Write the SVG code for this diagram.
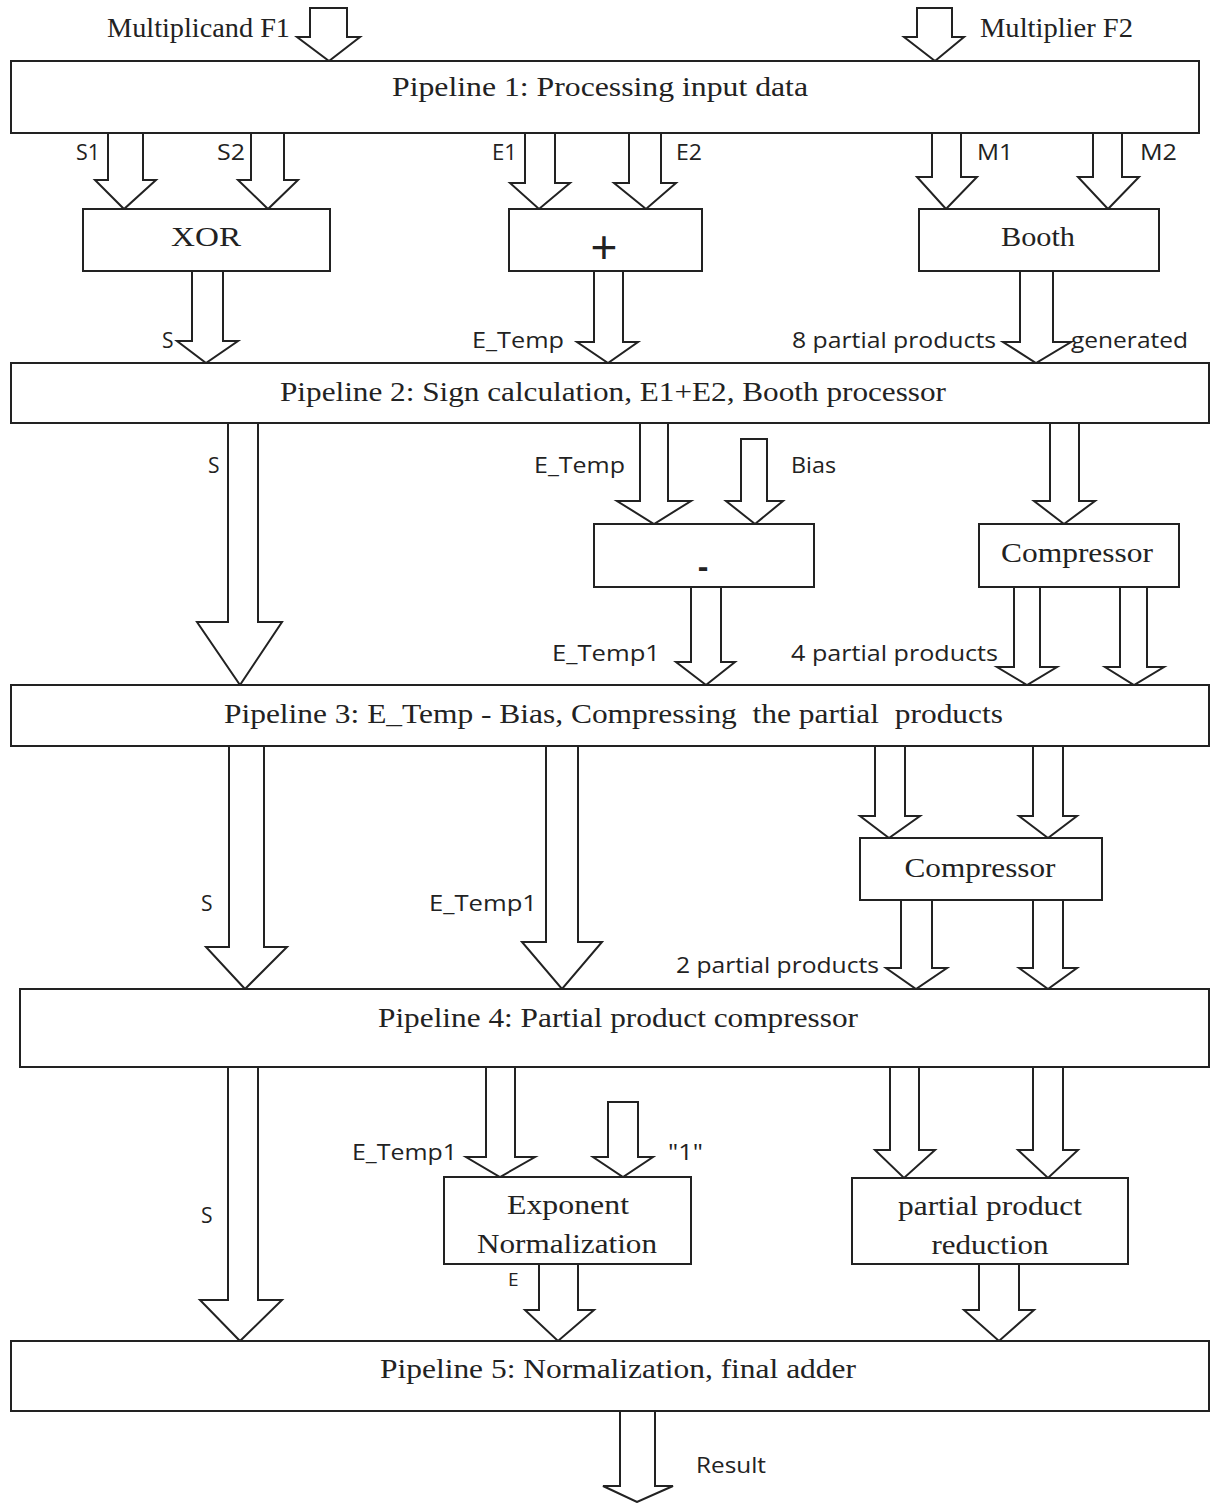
<svg xmlns="http://www.w3.org/2000/svg" width="1211" height="1503" viewBox="0 0 1211 1503">
<style>
.box{fill:#fff;stroke:#222;stroke-width:2}
.arr{fill:#fff;stroke:#222;stroke-width:2;stroke-linejoin:miter}
.ser{font-family:"Liberation Serif","Times New Roman",serif;font-size:27px;fill:#222}
.san{font-family:"Open Sans","Liberation Sans",sans-serif;font-size:21px;fill:#222}
.mid{text-anchor:middle}
</style>
<rect width="1211" height="1503" fill="#fff"/>
<g id="connectors">
<polygon class="arr" points="310,8 347,8 347,37 360,37 329,61 297,37 310,37"/>
<polygon class="arr" points="917,8 952,8 952,37 964,37 935,61 904,37 917,37"/>
<polygon class="arr" points="108,133 143,133 143,180 156,180 124,209 95,180 108,180"/>
<polygon class="arr" points="251,133 284,133 284,180 298,180 268,209 238,180 251,180"/>
<polygon class="arr" points="525,133 555,133 555,183 570,183 539,209 510,183 525,183"/>
<polygon class="arr" points="629,133 661,133 661,183 676,183 646,209 614,183 629,183"/>
<polygon class="arr" points="932,133 961,133 961,177 977,177 946,209 917,177 932,177"/>
<polygon class="arr" points="1093,133 1122,133 1122,177 1139,177 1108,209 1078,177 1093,177"/>
<polygon class="arr" points="192,271 223,271 223,341 238,341 206,363 177,341 192,341"/>
<polygon class="arr" points="594,271 623,271 623,342 638,342 608,363 577,342 594,342"/>
<polygon class="arr" points="1020,271 1053,271 1053,342 1071,342 1036,363 1003,342 1020,342"/>
<polygon class="arr" points="228,423 258,423 258,622 282,622 240,685 197,622 228,622"/>
<polygon class="arr" points="640,423 668,423 668,501 691,501 654,524 617,501 640,501"/>
<polygon class="arr" points="741,439 767,439 767,501 783,501 755,524 726,501 741,501"/>
<polygon class="arr" points="1050,423 1079,423 1079,501 1095,501 1064,524 1034,501 1050,501"/>
<polygon class="arr" points="691,587 721,587 721,662 735,662 706,685 676,662 691,662"/>
<polygon class="arr" points="1014,587 1040,587 1040,667 1057,667 1027,685 997,667 1014,667"/>
<polygon class="arr" points="1120,587 1147,587 1147,667 1164,667 1134,685 1105,667 1120,667"/>
<polygon class="arr" points="229,746 264,746 264,947 287,947 245,989 206,947 229,947"/>
<polygon class="arr" points="546,746 578,746 578,942 602,942 562,989 522,942 546,942"/>
<polygon class="arr" points="875,746 905,746 905,816 920,816 889,838 860,816 875,816"/>
<polygon class="arr" points="1033,746 1063,746 1063,816 1077,816 1048,838 1019,816 1033,816"/>
<polygon class="arr" points="901,900 932,900 932,968 947,968 916,989 886,968 901,968"/>
<polygon class="arr" points="1033,900 1063,900 1063,968 1077,968 1048,989 1019,968 1033,968"/>
<polygon class="arr" points="228,1067 258,1067 258,1300 282,1300 240,1341 200,1300 228,1300"/>
<polygon class="arr" points="486,1067 515,1067 515,1157 535,1157 500,1177 466,1157 486,1157"/>
<polygon class="arr" points="608,1102 638,1102 638,1157 653,1157 623,1177 593,1157 608,1157"/>
<polygon class="arr" points="890,1067 919,1067 919,1150 935,1150 904,1178 875,1150 890,1150"/>
<polygon class="arr" points="1033,1067 1063,1067 1063,1150 1078,1150 1048,1178 1018,1150 1033,1150"/>
<polygon class="arr" points="539,1264 578,1264 578,1310 594,1310 558,1341 525,1310 539,1310"/>
<polygon class="arr" points="979,1264 1019,1264 1019,1310 1034,1310 999,1341 964,1310 979,1310"/>
<polygon class="arr" points="620,1411 655,1411 655,1486 673,1486 637,1502 603,1486 620,1486"/>
</g>
<g id="p1"><rect class="box" x="11" y="61" width="1188" height="72"/><text class="ser" x="392" y="96" textLength="416" lengthAdjust="spacingAndGlyphs">Pipeline 1: Processing input data</text></g>
<g id="xor"><rect class="box" x="83" y="209" width="247" height="62"/><text class="ser mid" x="206" y="246" textLength="70" lengthAdjust="spacingAndGlyphs">XOR</text></g>
<g id="plus"><rect class="box" x="509" y="209" width="193" height="62"/><text class="mid" x="604" y="263" style="font-family:'Liberation Sans',sans-serif;font-size:46px;fill:#222">+</text></g>
<g id="booth"><rect class="box" x="919" y="209" width="240" height="62"/><text class="ser mid" x="1038" y="246" textLength="74" lengthAdjust="spacingAndGlyphs">Booth</text></g>
<g id="p2"><rect class="box" x="11" y="363" width="1198" height="60"/><text class="ser" x="280" y="401" textLength="666" lengthAdjust="spacingAndGlyphs">Pipeline 2: Sign calculation, E1+E2, Booth processor</text></g>
<g id="minus"><rect class="box" x="594" y="524" width="220" height="63"/><text class="mid" x="703" y="577" style="font-family:'Liberation Sans',sans-serif;font-size:32px;font-weight:bold;fill:#222">-</text></g>
<g id="comp1"><rect class="box" x="979" y="524" width="200" height="63"/><text class="ser mid" x="1077" y="562" textLength="152" lengthAdjust="spacingAndGlyphs">Compressor</text></g>
<g id="p3"><rect class="box" x="11" y="685" width="1198" height="61"/><text class="ser" x="224" y="723" textLength="779" lengthAdjust="spacingAndGlyphs" xml:space="preserve">Pipeline 3: E_Temp - Bias, Compressing  the partial  products</text></g>
<g id="comp2"><rect class="box" x="860" y="838" width="242" height="62"/><text class="ser mid" x="980" y="877" textLength="151" lengthAdjust="spacingAndGlyphs">Compressor</text></g>
<g id="p4"><rect class="box" x="20" y="989" width="1189" height="78"/><text class="ser" x="378" y="1027" textLength="480" lengthAdjust="spacingAndGlyphs">Pipeline 4: Partial product compressor</text></g>
<g id="expnorm"><rect class="box" x="444" y="1177" width="247" height="87"/><text class="ser mid" x="568" y="1214" textLength="122" lengthAdjust="spacingAndGlyphs">Exponent</text><text class="ser mid" x="567" y="1253" textLength="180" lengthAdjust="spacingAndGlyphs">Normalization</text></g>
<g id="ppr"><rect class="box" x="852" y="1178" width="276" height="86"/><text class="ser mid" x="990" y="1215" textLength="184" lengthAdjust="spacingAndGlyphs">partial product</text><text class="ser mid" x="990" y="1254" textLength="117" lengthAdjust="spacingAndGlyphs">reduction</text></g>
<g id="p5"><rect class="box" x="11" y="1341" width="1198" height="70"/><text class="ser" x="380" y="1378" textLength="476" lengthAdjust="spacingAndGlyphs">Pipeline 5: Normalization, final adder</text></g>
<g id="labels">
<text class="ser" x="107" y="37" textLength="183" lengthAdjust="spacingAndGlyphs">Multiplicand F1</text>
<text class="ser" x="980" y="37" textLength="153" lengthAdjust="spacingAndGlyphs">Multiplier F2</text>
<text class="san" x="76" y="160" textLength="24" lengthAdjust="spacingAndGlyphs">S1</text>
<text class="san" x="217" y="160" textLength="28" lengthAdjust="spacingAndGlyphs">S2</text>
<text class="san" x="492" y="160" textLength="25" lengthAdjust="spacingAndGlyphs">E1</text>
<text class="san" x="676" y="160" textLength="26" lengthAdjust="spacingAndGlyphs">E2</text>
<text class="san" x="977" y="160" textLength="36" lengthAdjust="spacingAndGlyphs">M1</text>
<text class="san" x="1140" y="160" textLength="37" lengthAdjust="spacingAndGlyphs">M2</text>
<text class="san" x="162" y="348">S</text>
<text class="san" x="472" y="348" textLength="92" lengthAdjust="spacingAndGlyphs">E_Temp</text>
<text class="san" x="792" y="348" textLength="204" lengthAdjust="spacingAndGlyphs">8 partial products</text>
<text class="san" x="1071" y="348" textLength="117" lengthAdjust="spacingAndGlyphs">generated</text>
<text class="san" x="208" y="473">S</text>
<text class="san" x="534" y="473" textLength="91" lengthAdjust="spacingAndGlyphs">E_Temp</text>
<text class="san" x="791" y="473" textLength="45" lengthAdjust="spacingAndGlyphs">Bias</text>
<text class="san" x="552" y="661" textLength="108" lengthAdjust="spacingAndGlyphs">E_Temp1</text>
<text class="san" x="791" y="661" textLength="207" lengthAdjust="spacingAndGlyphs">4 partial products</text>
<text class="san" x="201" y="911">S</text>
<text class="san" x="429" y="911" textLength="108" lengthAdjust="spacingAndGlyphs">E_Temp1</text>
<text class="san" x="676" y="973" textLength="203" lengthAdjust="spacingAndGlyphs">2 partial products</text>
<text class="san" x="352" y="1160" textLength="105" lengthAdjust="spacingAndGlyphs">E_Temp1</text>
<text class="san" x="668" y="1160" textLength="35" lengthAdjust="spacingAndGlyphs">"1"</text>
<text class="san" x="201" y="1223">S</text>
<text class="san" x="508" y="1286" style="font-size:19px">E</text>
<text class="san" x="696" y="1473" textLength="70" lengthAdjust="spacingAndGlyphs">Result</text>
</g>
</svg>
